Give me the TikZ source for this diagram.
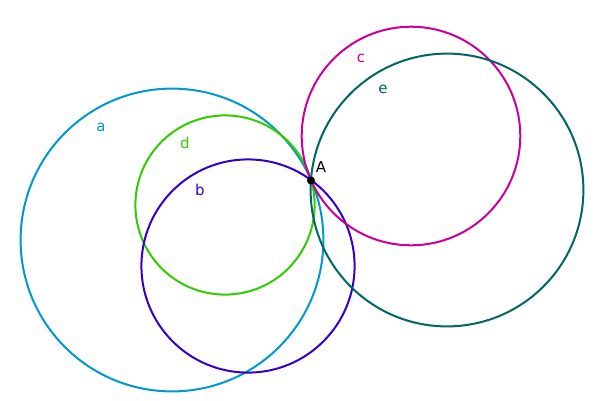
\documentclass[tikz,border=0pt]{standalone}
\usepackage{fontspec}
\setmainfont{DejaVu Sans}
\definecolor{ca}{RGB}{0,153,204}
\definecolor{cd}{RGB}{51,204,0}
\definecolor{cb}{RGB}{51,0,204}
\definecolor{cc}{RGB}{204,0,153}
\definecolor{ce}{RGB}{0,102,102}
\begin{document}
\begin{tikzpicture}[x=1pt,y=-1pt,
  circ/.style={line width=2pt},
  lbl/.style={font=\fontsize{15}{15}\selectfont, inner sep=0pt}]
\useasboundingbox (0,0) rectangle (600,400);
\fill[white] (0,0) rectangle (600,400);
\draw[circ,ca] (172,240) circle (151.4);
\draw[circ,cd] (225,205) circle (89.6);
\draw[circ,cb] (248,266) circle (106.6);
\draw[circ,cc] (411,136) circle (109.3);
\draw[circ,ce] (447,190) circle (136.4);
\node[circle,fill=black,inner sep=0pt,minimum size=8pt] (A) at (311,180.5) {};
\node[lbl,black] (lA) at (321,167) {A};
\node[lbl,ca] (la) at (101,127) {a};
\node[lbl,cd] (ld) at (185,143) {d};
\node[lbl,cb] (lb) at (200,190) {b};
\node[lbl,cc] (lc) at (361,58) {c};
\node[lbl,ce] (le) at (383,89) {e};
\end{tikzpicture}
\end{document}
